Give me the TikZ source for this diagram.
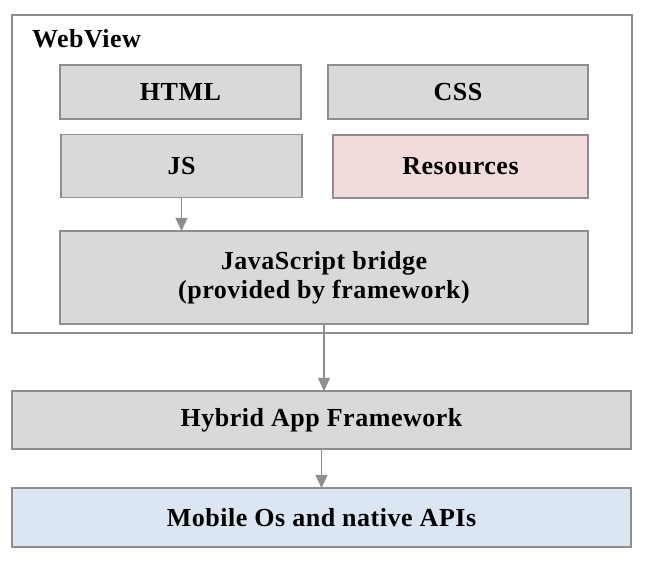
\documentclass[tikz,border=0pt]{standalone}
\usepackage{fontspec}
\setmainfont{Liberation Serif}[LetterSpace=2]
\usepackage{tikz}
\usetikzlibrary{arrows.meta}

\definecolor{boxgray}{HTML}{D9D9D9}
\definecolor{edgegray}{HTML}{8E8E8E}
\definecolor{respink}{HTML}{F2DCDB}
\definecolor{osblue}{HTML}{DCE6F2}

\begin{document}
\begin{tikzpicture}[x=1pt, y=1pt, >={Triangle[width=12pt, length=13pt]},
    every node/.style={font=\fontsize{26}{29}\selectfont\bfseries, inner sep=0pt, outer sep=0pt},
    layer/.style={draw=edgegray, line width=1.6pt, fill=boxgray, align=center},
    link/.style={->, draw=edgegray, fill=edgegray, line width=1.2pt}]
        \useasboundingbox (0,0) rectangle (645,561);

        % WebView container
        \node[draw=edgegray, line width=1.2pt, minimum width=620pt, minimum height=318pt] (webview) at (322, 387) {};
        \node[anchor=base west] (webviewlabel) at (32, 513) {WebView};

        % Inner boxes
        \node[layer, minimum width=241pt, minimum height=54pt] (html) at (180.5, 469) {HTML};
        \node[layer, minimum width=260pt, minimum height=54pt] (css) at (458, 469) {CSS};
        \node[layer, minimum width=241pt, minimum height=63pt] (js) at (181.5, 395) {JS};
        \node[layer, fill=respink, minimum width=255pt, minimum height=63pt] (res) at (460.5, 394.5) {Resources};
        \node[layer, minimum width=528pt, minimum height=93pt] (bridge) at (324, 283.5) {JavaScript bridge\\(provided by framework)};

        % Lower layers
        \node[layer, minimum width=619pt, minimum height=58pt] (hybrid) at (321.5, 141) {Hybrid App Framework};
        \node[layer, fill=osblue, minimum width=619pt, minimum height=59pt] (mobile) at (321.5, 43.5) {Mobile Os and native APIs};

        % Arrows
        \draw[link] (js.south) -- (js.south |- bridge.north);
        \draw[link] (bridge.south) -- (bridge.south |- hybrid.north);
        \draw[link] (hybrid.south) -- (mobile.north);
    \end{tikzpicture}
\end{document}
